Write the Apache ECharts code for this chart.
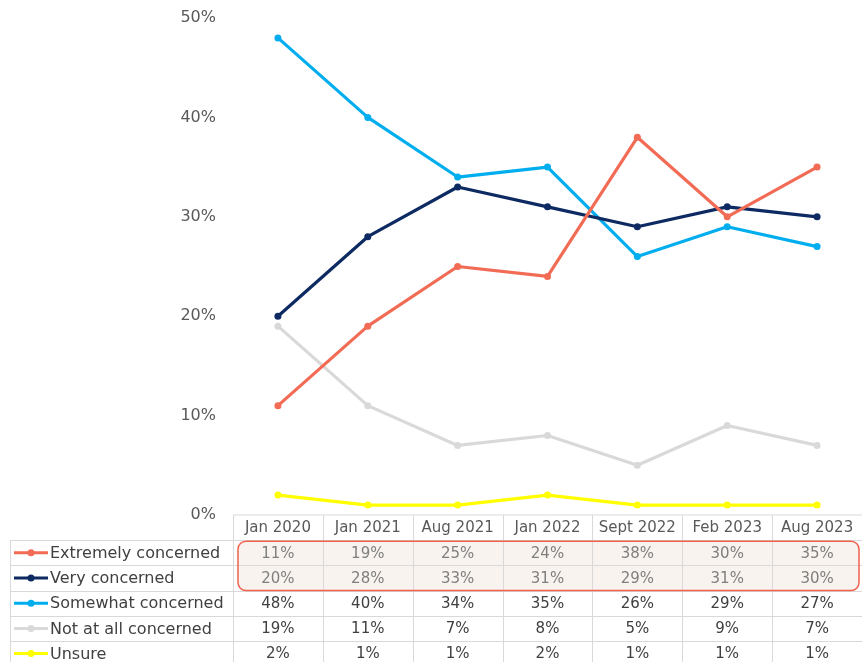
<!DOCTYPE html>
<html>
<head>
<meta charset="utf-8">
<script src="https://cdn.jsdelivr.net/npm/echarts@6/dist/echarts.min.js"></script>
<style>
  html, body { margin: 0; padding: 0; background: #fff; }
  #chart { width: 862px; height: 662px; }
</style>
</head>
<body>
<div id="chart"></div>
<script>
// survey waves
const categories = ['Jan 2020', 'Jan 2021', 'Aug 2021', 'Jan 2022', 'Sept 2022', 'Feb 2023', 'Aug 2023']
const seriesNames = ['Extremely concerned', 'Very concerned', 'Somewhat concerned', 'Not at all concerned', 'Unsure']
const extremely = [11, 19, 25, 24, 38, 30, 35]
const very = [20, 28, 33, 31, 29, 31, 30]
const somewhat = [48, 40, 34, 35, 26, 29, 27]
const notAtAll = [19, 11, 7, 8, 5, 9, 7]
const unsure = [2, 1, 1, 2, 1, 1, 1]
const yTicks = [0, 10, 20, 30, 40, 50]

const colors = ['#F26B55', '#0E2A62', '#00AEEF', '#D9D9D9', '#FFFF00']
const allData = [extremely, very, somewhat, notAtAll, unsure]
const font = '"DejaVu Sans", sans-serif'

const chart = echarts.init(document.getElementById('chart'))

const series = seriesNames.map((name, i) => ({
  name: name,
  type: 'line',
  data: allData[i],
  symbol: 'circle',
  symbolSize: 7,
  lineStyle: { width: 3.2, color: colors[i] },
  itemStyle: { color: colors[i] },
  z: 10 - i,
  animation: false
}))

chart.setOption({
  animation: false,
  grid: { left: 233, right: 0, top: 18, bottom: 147 },
  xAxis: {
    type: 'category',
    data: categories,
    boundaryGap: true,
    axisLine: { show: false },
    axisTick: { show: false },
    axisLabel: { show: false }
  },
  yAxis: {
    type: 'value',
    min: yTicks[0],
    max: yTicks[yTicks.length - 1],
    interval: 10,
    splitLine: { show: false },
    axisLine: { show: false },
    axisTick: { show: false },
    axisLabel: {
      margin: 17,
      color: '#595959',
      fontSize: 16,
      fontFamily: font,
      formatter: v => v + '%'
    }
  },
  series: series
})

// data table below the plot
const gridLeft = 233
const tableLeft = 10
const rightEdge = 862
const tableTop = chart.convertToPixel({ yAxisIndex: 0 }, 0)
const rowH = 25.2
const colW = (rightEdge - gridLeft) / categories.length
const centers = categories.map(c => chart.convertToPixel({ xAxisIndex: 0 }, c))
const lineColor = '#D9D9D9'
const g = []

// highlight box behind the first two rows
g.push({
  type: 'rect',
  z: 1,
  shape: { x: gridLeft + 5, y: tableTop + rowH + 1, width: rightEdge - gridLeft - 8, height: rowH * 2 - 1, r: 8 },
  style: { fill: '#F8F3EE', stroke: null }
})

// horizontal lines
g.push({ type: 'line', z: 2, shape: { x1: gridLeft, y1: tableTop, x2: rightEdge, y2: tableTop }, style: { stroke: lineColor, lineWidth: 1 } })
for (let r = 1; r <= seriesNames.length; r++) {
  const y = Math.round(tableTop + r * rowH) + 0.5
  g.push({ type: 'line', z: 2, shape: { x1: tableLeft, y1: y, x2: rightEdge, y2: y }, style: { stroke: lineColor, lineWidth: 1 } })
}
// vertical lines
g.push({ type: 'line', z: 2, shape: { x1: tableLeft + 0.5, y1: tableTop + rowH, x2: tableLeft + 0.5, y2: 662 }, style: { stroke: lineColor, lineWidth: 1 } })
for (let c = 0; c < categories.length; c++) {
  const x = Math.round(gridLeft + c * colW) + 0.5
  g.push({ type: 'line', z: 2, shape: { x1: x, y1: tableTop, x2: x, y2: 662 }, style: { stroke: lineColor, lineWidth: 1 } })
}

// header
categories.forEach((c, i) => {
  g.push({
    type: 'text', z: 5,
    x: centers[i], y: tableTop + rowH / 2 + 1,
    style: { text: c, fill: '#595959', font: '15px ' + font, align: 'center', verticalAlign: 'middle' }
  })
})

// legend column + values
seriesNames.forEach((name, r) => {
  const cy = tableTop + rowH * (r + 1) + rowH / 2
  g.push({ type: 'line', z: 5, shape: { x1: 14, y1: cy, x2: 48, y2: cy }, style: { stroke: colors[r], lineWidth: 3 } })
  g.push({ type: 'circle', z: 6, shape: { cx: 31, cy: cy, r: 3.5 }, style: { fill: colors[r] } })
  g.push({
    type: 'text', z: 5, x: 50, y: cy + 1,
    style: { text: name, fill: '#404040', font: '16px ' + font, align: 'left', verticalAlign: 'middle' }
  })
  allData[r].forEach((v, i) => {
    g.push({
      type: 'text', z: 5, x: centers[i], y: cy + 1,
      style: { text: v + '%', fill: r < 2 ? '#7F7F7F' : '#404040', font: '15px ' + font, align: 'center', verticalAlign: 'middle' }
    })
  })
})

// highlight border on top
g.push({
  type: 'rect',
  z: 7,
  shape: { x: gridLeft + 5, y: tableTop + rowH + 1, width: rightEdge - gridLeft - 8, height: rowH * 2 - 1, r: 8 },
  style: { fill: null, stroke: '#F0624D', lineWidth: 1.5 }
})

chart.setOption({ graphic: g })
</script>
</body>
</html>
